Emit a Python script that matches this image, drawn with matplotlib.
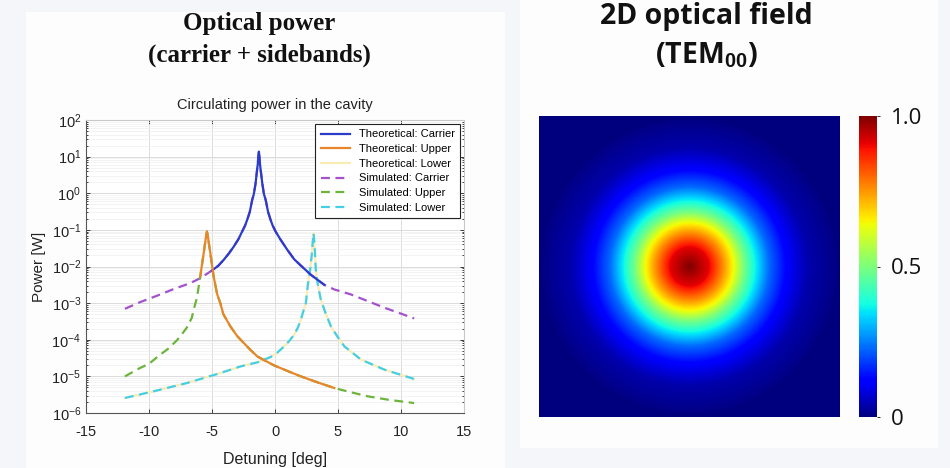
import matplotlib.pyplot as plt
import numpy as np
from matplotlib.patches import Rectangle
from matplotlib.ticker import LogLocator, FixedLocator, NullFormatter

plt.rcParams['font.family'] = ['Liberation Sans', 'DejaVu Sans']
plt.rcParams['axes.unicode_minus'] = False
plt.rcParams['mathtext.fontset'] = 'custom'
plt.rcParams['mathtext.rm'] = 'Liberation Sans'
plt.rcParams['mathtext.it'] = 'Liberation Sans:italic'
plt.rcParams['mathtext.bf'] = 'Liberation Sans:bold'

# circulating power [W] vs detuning [deg]
det_carrier = [-11.91, -10.72, -9.39, -8.06, -6.73, -5.93, -5.0, -4.5, -4.07, -3.65,
               -3.27, -2.9, -2.61, -2.38, -2.21, -2.0, -1.81, -1.68, -1.54, -1.45,
               -1.36, -1.32, -1.28, -1.24, -1.20, -1.11, -1.01, -0.88, -0.74, -0.55,
               -0.35, -0.18, 0.05, 0.45, 0.98, 1.52, 2.05, 2.85, 3.91, 4.71,
               6.04, 7.37, 8.70, 10.03, 11.04]
pow_carrier = [7.0e-4, 1.06e-3, 1.58e-3, 2.41e-3, 3.51e-3, 4.81e-3, 7.78e-3, 1.05e-2, 1.52e-2, 2.3e-2,
               3.51e-2, 5.6e-2, 9.0e-2, 0.13, 0.187, 0.31, 0.658, 0.95, 1.87, 3.6,
               6.58, 10.5, 13.7, 10.5, 6.58, 3.6, 1.87, 0.95, 0.658, 0.31,
               0.187, 0.13, 9.0e-2, 5.34e-2, 2.85e-2, 1.58e-2, 1.06e-2, 5.93e-3, 3.16e-3, 2.36e-3,
               1.72e-3, 1.13e-3, 7.46e-4, 5.12e-4, 3.82e-4]

det_upper = [-11.91, -10.72, -10.0, -9.12, -8.5, -7.79, -7.4, -6.99, -6.6, -6.46,
             -6.20, -5.93, -5.80, -5.66, -5.53, -5.47, -5.40, -5.33, -5.27, -5.13,
             -5.0, -4.87, -4.6, -4.34, -4.1, -3.54, -3.0, -2.47, -2.0, -1.41,
             -0.8, -0.08, 1.0, 2.05, 3.3, 4.71, 6.0, 7.37, 9.0, 11.04]
pow_upper = [1.0e-5, 1.69e-5, 2.2e-5, 3.9e-5, 5.6e-5, 9.6e-5, 1.4e-4, 2.17e-4, 4.0e-4, 6.58e-4,
             1.37e-3, 5.34e-3, 1.1e-2, 2.31e-2, 4.81e-2, 6.8e-2, 9.0e-2, 6.8e-2, 4.81e-2, 2.31e-2,
             1.1e-2, 5.34e-3, 1.8e-3, 1.0e-3, 5.0e-4, 2.31e-4, 1.26e-4, 8.1e-5, 5.5e-5, 3.51e-5,
             2.7e-5, 2.0e-5, 1.4e-5, 1.0e-5, 7.0e-6, 4.81e-6, 3.7e-6, 2.85e-6, 2.3e-6, 1.87e-6]

det_lower = [-11.91, -9.65, -6.99, -4.34, -2.74, -1.41, -0.35, 0.2, 0.72, 1.1,
             1.52, 1.8, 2.05, 2.25, 2.45, 2.6, 2.79, 2.86, 2.93, 3.0,
             3.06, 3.11, 3.16, 3.24, 3.3, 3.43, 3.53, 3.64, 4.0, 4.44,
             4.9, 5.51, 6.84, 8.70, 11.04]
pow_lower = [2.57e-6, 3.9e-6, 6.58e-6, 1.23e-5, 1.87e-5, 2.41e-5, 3.37e-5, 4.5e-5, 6.58e-5, 9.0e-5,
             1.37e-4, 2.1e-4, 3.51e-4, 6.0e-4, 1.0e-3, 3.0e-3, 8.1e-3, 1.35e-2, 2.31e-2, 5.0e-2,
             8.1e-2, 5.0e-2, 2.85e-2, 8.1e-3, 5.0e-3, 2.85e-3, 1.9e-3, 1.23e-3, 5.5e-4, 2.31e-4,
             1.3e-4, 6.58e-5, 2.85e-5, 1.52e-5, 8.5e-6]

# detuning range covered by the theoretical curves
span_carrier = (-5.0, 3.91)
span_upper = (-5.93, 4.71)
span_lower = (-11.91, 11.04)

# TEM00 intensity vs normalised radius
field_radius = [0.0, 0.13, 0.23, 0.30, 0.36, 0.43, 0.53, 0.66, 0.79, 0.93, 1.0, 1.5]
field_level = [1.0, 0.91, 0.75, 0.63, 0.50, 0.38, 0.23, 0.11, 0.04, 0.015, 0.0, 0.0]
cbar_ticks = [0, 0.5, 1.0]
cbar_labels = ['0', '0.5', '1.0']

W, H = 950, 468
fig = plt.figure(figsize=(9.5, 4.68), dpi=100, facecolor='#f4f6fa')

def fig_box(x0, y0, x1, y1):
    return [x0 / W, 1 - y1 / H, (x1 - x0) / W, (y1 - y0) / H]

# white panels behind each half
for x0, y0, x1, y1 in [(26, 12, 505, 468), (520, 0, 938, 448)]:
    b = fig_box(x0, y0, x1, y1)
    fig.patches.append(Rectangle((b[0], b[1]), b[2], b[3], transform=fig.transFigure,
                                 facecolor='#fdfdfe', edgecolor='none', zorder=-5))

# ---- left: circulating power ----
ax = fig.add_axes(fig_box(86, 120, 464, 413))
ax.set_facecolor('white')


def in_span(x, y, span):
    x = np.asarray(x)
    y = np.asarray(y)
    m = (x >= span[0]) & (x <= span[1])
    return x[m], y[m]


lw = 1.6
dash = (0, (4, 2.5))
ax.plot(*in_span(det_carrier, pow_carrier, span_carrier), color='#2a3cc8', lw=lw, zorder=4,
        label='Theoretical: Carrier')
ax.plot(*in_span(det_upper, pow_upper, span_upper), color='#e8862a', lw=lw, zorder=4,
        label='Theoretical: Upper')
ax.plot(*in_span(det_lower, pow_lower, span_lower), color='#fbecb4', lw=lw, zorder=2,
        label='Theoretical: Lower')
ax.plot(det_carrier, pow_carrier, color='#a452cc', lw=lw, ls=dash, zorder=3,
        label='Simulated: Carrier')
ax.plot(det_upper, pow_upper, color='#6cb43c', lw=lw, ls=dash, zorder=3,
        label='Simulated: Upper')
ax.plot(det_lower, pow_lower, color='#45cfe6', lw=lw, ls=dash, zorder=3,
        label='Simulated: Lower')

ax.set_yscale('log')
ax.set_xlim(-15, 15)
ax.set_ylim(1e-6, 1e2)
ax.set_xticks([-15, -10, -5, 0, 5, 10, 15])
ax.yaxis.set_major_locator(FixedLocator([10.0 ** k for k in range(-6, 3)]))
ax.yaxis.set_minor_locator(LogLocator(base=10, subs=np.arange(2, 10), numticks=20))
ax.yaxis.set_minor_formatter(NullFormatter())
ax.set_yticklabels([r'$10^{%d}$' % k for k in range(-6, 3)])
ax.tick_params(axis='both', which='both', direction='in', top=True, right=True,
               labelsize=10.5, colors='#222222', length=3, width=0.6)
ax.tick_params(axis='x', pad=9)
ax.tick_params(axis='y', which='minor', length=1.5)
ax.grid(True, which='major', color='#d6d6d6', lw=0.6)
ax.grid(True, which='minor', axis='y', color='#efefef', lw=0.5)
ax.set_axisbelow(True)
for side in ['left', 'bottom']:
    ax.spines[side].set_color('#555555')
for side in ['top', 'right']:
    ax.spines[side].set_color('#c8c8c8')
for s in ax.spines.values():
    s.set_linewidth(0.8)

ax.set_title('Circulating power in the cavity', fontsize=10.5, pad=8, color='#222222')
ax.set_xlabel('Detuning [deg]', fontsize=11.5, labelpad=9, color='#222222')
ax.set_ylabel('Power [W]', fontsize=11, labelpad=4, color='#222222')

leg = ax.legend(loc='upper right', fontsize=8, handlelength=2.6, borderaxespad=0.35,
                labelspacing=0.42, fancybox=False, framealpha=1, borderpad=0.5)
leg.get_frame().set_edgecolor('#222222')
leg.get_frame().set_linewidth(0.8)

fig.text(259 / W, 1 - 30 / H, 'Optical power', ha='center', va='baseline',
         fontsize=18, fontweight='bold', family='Liberation Serif', color='#111111')
fig.text(259 / W, 1 - 62 / H, '(carrier + sidebands)', ha='center', va='baseline',
         fontsize=18, fontweight='bold', family='Liberation Serif', color='#111111')

# ---- right: TEM00 field ----
hx = fig.add_axes(fig_box(538, 116, 840, 417))
n = 301
g = np.linspace(-1, 1, n)
X, Y = np.meshgrid(g, g)
R = np.sqrt(X ** 2 + Y ** 2)
field = np.interp(R, field_radius, field_level)
im = hx.imshow(field, cmap='jet', vmin=0, vmax=1, extent=[-1, 1, -1, 1],
               interpolation='bilinear', origin='lower')
hx.set_xticks([])
hx.set_yticks([])
for s in hx.spines.values():
    s.set_visible(False)

cax = fig.add_axes(fig_box(859, 116, 877, 417))
cb = fig.colorbar(im, cax=cax, ticks=cbar_ticks)
cb.set_ticklabels(cbar_labels)
cb.outline.set_visible(False)
cax.tick_params(length=2, width=0.6, labelsize=16, pad=8, colors='#111111')
for t in cax.get_yticklabels():
    t.set_family('Open Sans')

fig.text(706 / W, 1 - 24 / H, '2D optical field', ha='center', va='baseline',
         fontsize=20.5, fontweight='bold', family='Open Sans', color='#111111')
fig.text(706 / W, 1 - 63 / H, r'(TEM$_{\mathbf{00}}$)', ha='center', va='baseline',
         fontsize=20.5, fontweight='bold', family='Open Sans', color='#111111')

fig.savefig('out.png', dpi=100, facecolor=fig.get_facecolor())
